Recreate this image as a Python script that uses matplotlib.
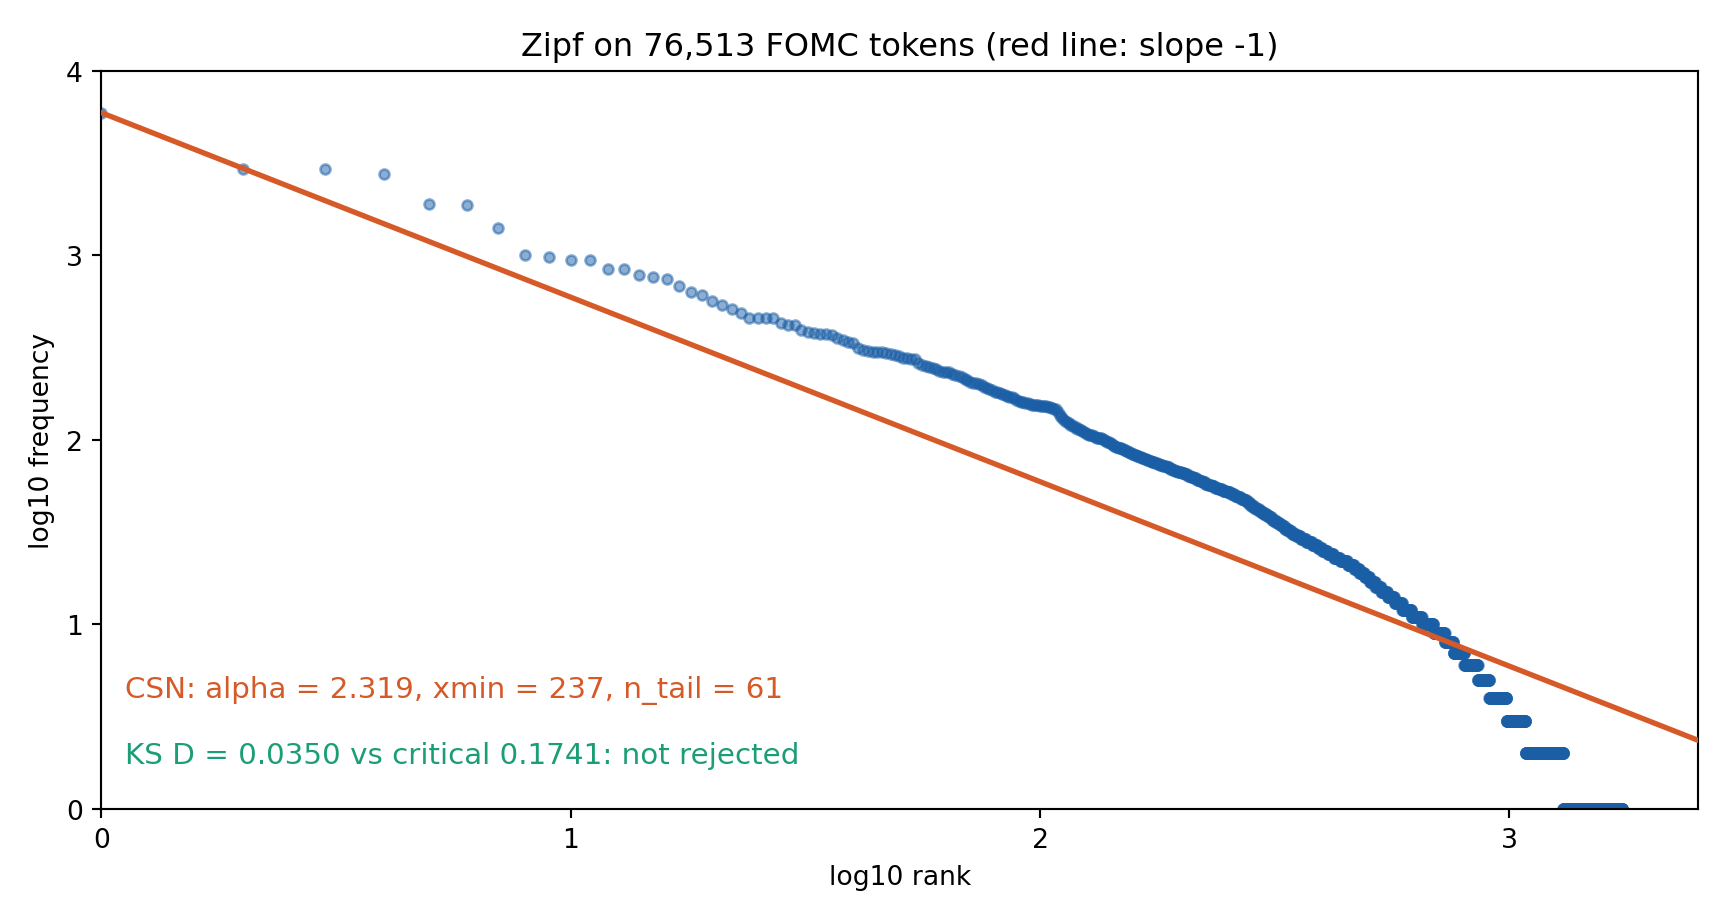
import numpy as np
import matplotlib
matplotlib.use("Agg")
import matplotlib.pyplot as plt

# ---- data ----
total_tokens = "76,513"

# frequencies of the most frequent words, rank 1..135
top_freqs = [5940, 2955, 2950, 2773, 1906, 1883, 1418, 1009, 984, 951,
             950, 847, 846, 785, 766, 747, 684, 635, 613, 566,
             542, 514, 489, 459, 459, 459, 458, 431, 421, 420,
             395, 383, 378, 377, 375, 372, 357, 350, 341, 334,
             314, 308, 302, 301, 300, 299, 296, 294, 290, 287,
             279, 277, 276, 275, 262, 256, 253, 250, 246, 242,
             237, 235, 234, 233, 229, 226, 222, 219, 214, 211,
             207, 204, 203, 201, 198, 194, 191, 189, 186, 183,
             181, 180, 178, 176, 174, 172, 171, 168, 165, 163,
             161, 160, 159, 158, 156, 155, 155, 154, 154, 153,
             153, 152, 152, 151, 150, 149, 148, 147, 142, 137,
             133, 130, 127, 125, 123, 121, 120, 118, 117, 115,
             114, 113, 112, 110, 109, 108, 107, 106, 106, 105,
             104, 103, 103, 102, 102]

# frequency spectrum of the rest: frequency value -> number of words
spec_freqs = [101, 100, 99, 98, 97, 96, 95, 94, 93, 92, 91, 90, 89, 88, 87,
              86, 85, 84, 83, 82, 81, 80, 79, 78, 77, 76, 75, 74, 73, 72,
              71, 70, 69, 68, 67, 66, 65, 64, 63, 62, 61, 60, 59, 58, 57,
              56, 55, 54, 53, 52, 51, 50, 49, 48, 47, 46, 45, 44, 43, 42,
              41, 40, 39, 38, 37, 36, 35, 34, 33, 32, 31, 30, 29, 28, 27,
              26, 25, 24, 23, 22, 21, 20, 19, 18, 17, 16, 15, 14, 13, 12,
              11, 10, 9, 8, 7, 6, 5, 4, 3, 2, 1]
spec_counts = [1, 1, 1, 1, 1, 1, 1, 1, 1, 2, 1, 2, 1, 2, 1,
               2, 1, 2, 2, 2, 2, 2, 2, 2, 2, 3, 2, 2, 3, 3,
               3, 3, 2, 3, 4, 3, 3, 3, 3, 3, 3, 3, 3, 3, 4,
               4, 4, 5, 5, 5, 5, 4, 4, 4, 4, 3, 3, 4, 3, 4,
               4, 5, 5, 5, 5, 5, 5, 5, 6, 6, 7, 8, 10, 11, 10,
               9, 11, 12, 14, 16, 15, 12, 12, 13, 14, 15, 17, 19, 22, 28,
               32, 38, 39, 32, 41, 55, 50, 80, 96, 220, 439]

csn_alpha = 2.319
csn_xmin = 237
csn_ntail = 61
ks_d = 0.0350
ks_crit = 0.1741

# ---- build rank/frequency arrays ----
freqs = np.concatenate([np.array(top_freqs, dtype=float),
                        np.repeat(np.array(spec_freqs, dtype=float), spec_counts)])
ranks = np.arange(1, len(freqs) + 1)
lx = np.log10(ranks)
ly = np.log10(freqs)

fig = plt.figure(figsize=(9, 4.8), dpi=192)
ax = fig.add_subplot(111)
fig.subplots_adjust(left=0.0587, right=0.9829, bottom=0.1216, top=0.9223)

blue = "#1a5ea6"
orange = "#d65a28"
green = "#1b9e77"

ax.scatter(lx, ly, s=14, color=blue, alpha=0.5, linewidths=1.0, zorder=2)

xmax = lx.max() * 1.05
xl = np.array([0.0, xmax])
ax.plot(xl, ly[0] - xl, color=orange, lw=2.0, zorder=3)

ax.set_xlim(0, xmax)
ax.set_ylim(0, 4)
ax.set_xticks([0, 1, 2, 3])
ax.set_yticks([0, 1, 2, 3, 4])
ax.set_xlabel("log10 rank")
ax.set_ylabel("log10 frequency")
ax.set_title(f"Zipf on {total_tokens} FOMC tokens (red line: slope -1)", fontsize=12)

ax.text(0.015, 0.141,
        f"CSN: alpha = {csn_alpha:.3f}, xmin = {csn_xmin}, n_tail = {csn_ntail}",
        transform=ax.transAxes, color=orange, fontsize=11, va="bottom", ha="left")
ax.text(0.015, 0.053,
        f"KS D = {ks_d:.4f} vs critical {ks_crit:.4f}: not rejected",
        transform=ax.transAxes, color=green, fontsize=11, va="bottom", ha="left")

fig.savefig("out.png", dpi=192)
